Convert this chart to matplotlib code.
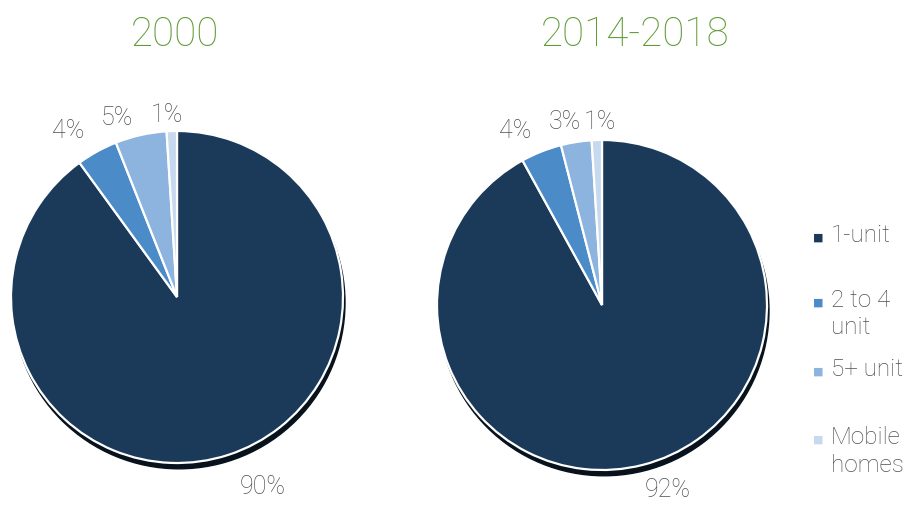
import matplotlib.pyplot as plt
from matplotlib.patches import Circle

plt.rcParams['font.family'] = ['Roboto', 'DejaVu Sans']

categories = ["1-unit", "2 to 4\nunit", "5+ unit", "Mobile\nhomes"]
years = ["2000", "2014-2018"]
share_2000 = [90, 4, 5, 1]
share_2018 = [92, 4, 3, 1]
colors = ["#1b3a5a", "#4a8bc8", "#8cb4de", "#c6d9ee"]

fig = plt.figure(figsize=(9.23, 5.08), dpi=100)
W, H = 923, 508


def draw_pie(cx, cy, r, values, title, tx, nudges):
    ax = fig.add_axes([(cx - r) / W, (H - cy - r) / H, 2 * r / W, 2 * r / H])
    ax.set_xlim(-1.25, 1.25)
    ax.set_ylim(-1.25, 1.25)
    ax.set_aspect("equal")
    ax.axis("off")
    # shadow under the pie
    ax.add_patch(Circle((0.012, -0.035), 1.0, color="#08121d", zorder=0))
    wedges, texts = ax.pie(
        values,
        colors=colors,
        startangle=90,
        counterclock=False,
        labels=[f"{v}%" for v in values],
        labeldistance=1.1,
        wedgeprops=dict(edgecolor="white", linewidth=1.6),
        textprops=dict(color="#505050", fontsize=18, fontweight="light",
                       ha="center", va="center"),
        radius=1.0,
    )
    for w in wedges:
        w.set_zorder(1)
    # nudge labels a little, like the best-fit placement of the original
    for t, (dx, dy) in zip(texts, nudges):
        x, y = t.get_position()
        t.set_position((x + dx, y + dy))
        t.set_ha("center")
    fig.text(tx / W, 1 - 35 / H, title, ha="center", va="center",
             fontsize=29, fontweight="light", color="#5f9a35")
    return wedges


# pie axes are sized so radius 1 maps onto the drawn circle
draw_pie(177, 297, 166 * 1.25, share_2000, years[0], 175,
         [(0.175, -0.096), (-0.127, 0.036), (-0.12, 0.006), (-0.024, -0.006)])
draw_pie(602, 305, 165 * 1.25, share_2018, years[1], 635,
         [(0.127, -0.055), (-0.121, 0.03), (-0.055, 0.024), (0.024, 0.012)])

# legend
lx = 818 / W
ly = [238, 303, 372, 440]
for lab, col, y in zip(categories, colors, ly):
    fig.text(lx, 1 - y / H, "\u25A0", color=col, fontsize=8,
             ha="center", va="center", family="DejaVu Sans")
    fig.text(lx + 13 / W, 1 - (y - 14) / H, lab, color="#505050",
             fontsize=17.5, fontweight="light", ha="left", va="top",
             linespacing=1.25)

fig.savefig("out.png", dpi=100)
